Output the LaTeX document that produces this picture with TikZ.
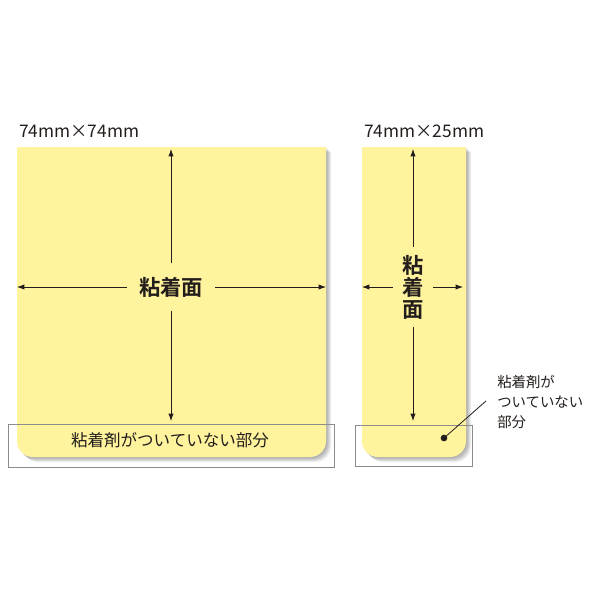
\documentclass[tikz,border=0pt]{standalone}
\usepackage{fontspec}
\setmainfont{Noto Sans CJK JP}[BoldFont={Noto Sans CJK JP Bold}]
\usetikzlibrary{arrows.meta}
\definecolor{padyellow}{RGB}{255,243,158}
\definecolor{framegray}{RGB}{140,140,140}
\definecolor{inkgray}{RGB}{35,30,28}
\tikzset{
  padfill/.style={fill=padyellow},
  padshadow/.style={fill=black,fill opacity=0.07},
  dimarrow/.style={-{Latex[length=5.5pt,width=4pt]},line width=0.6pt,draw=inkgray},
  nogluebox/.style={draw=framegray,line width=0.75pt},
  sizelabel/.style={inner sep=0.75pt,text=inkgray,font=\fontsize{13}{15}\selectfont},
  gluelabel/.style={inner sep=0pt,text=inkgray,font=\bfseries\fontsize{16}{16.5}\selectfont},
}
\begin{document}
\begin{tikzpicture}[x=0.75pt,y=0.75pt,yscale=-1,xscale=1]
    \useasboundingbox (0,0) rectangle (600,600);

    %Shape: both pads (square top, round bottom corners), shadow first
    \foreach \l/\r in {17/326,362/466} {
      \foreach \d in {5,4,3,2,1} {
        \fill [padshadow] (\l+\d,147+\d) -- (\r+\d,147+\d) -- (\r+\d,441+\d) .. controls (\r+\d,450+\d) and (\r-7+\d,457+\d) .. (\r-16+\d,457+\d) -- (\l+16+\d,457+\d) .. controls (\l+7+\d,457+\d) and (\l+\d,450+\d) .. (\l+\d,441+\d) -- cycle;
      }
      \fill [padfill] (\l,147) -- (\r,147) -- (\r,441) .. controls (\r,450) and (\r-7,457) .. (\r-16,457) -- (\l+16,457) .. controls (\l+7,457) and (\l,450) .. (\l,441) -- cycle;
    }

    %Shape: frames round the part without glue
    \draw [nogluebox] (8,424) rectangle (334,467);
    \draw [nogluebox] (355,425) rectangle (472,466);

    % Text Node
    \draw (18,131) node [anchor=west] [sizelabel] (sizeA) {74mm×74mm};
    % Text Node
    \draw (363,131) node [anchor=west] [sizelabel] (sizeB) {74mm×25mm};

    % Text Node
    \draw (171,287) node [gluelabel,inner xsep=9pt,inner ysep=10pt] (glueA) {粘着面};
    % Text Node
    \draw (413,287) node [gluelabel,align=center,inner xsep=7pt,inner ysep=6pt] (glueB) {粘\\着\\面};

    % Text Node
    \draw (170,440) node [inner sep=0.75pt,text=inkgray,font=\fontsize{12.4}{14}\selectfont] (noglueA) {粘着剤がついていない部分};
    % Text Node
    \draw (496,402) node [anchor=west,align=left,inner sep=0.75pt,text=inkgray,font=\fontsize{10.8}{15}\selectfont] (noglueB) {粘着剤が\\ついていない\\部分};

    %arrow ends on the pad edges
    \coordinate (topA) at (171,149);
    \coordinate (botA) at (171,421);
    \coordinate (leftA) at (17,287);
    \coordinate (rightA) at (326,287);
    \coordinate (topB) at (413,149);
    \coordinate (botB) at (413,421);
    \coordinate (leftB) at (362,287);
    \coordinate (rightB) at (463,287);

    \draw [dimarrow] (glueA) -- (topA);
    \draw [dimarrow] (glueA) -- (botA);
    \draw [dimarrow] (glueA) -- (leftA);
    \draw [dimarrow] (glueA) -- (rightA);
    \draw [dimarrow] (glueB) -- (topB);
    \draw [dimarrow] (glueB) -- (botB);
    \draw [dimarrow] (glueB) -- (leftB);
    \draw [dimarrow] (glueB) -- (rightB);

    %Shape: dot and leader to the note
    \node [circle,fill=inkgray,inner sep=0pt,minimum size=5pt] (dotB) at (444,438) {};
    \coordinate (leadB) at (486,401);
    \draw [line width=0.6pt,draw=inkgray] (dotB.center) -- (leadB);

\end{tikzpicture}
\end{document}
